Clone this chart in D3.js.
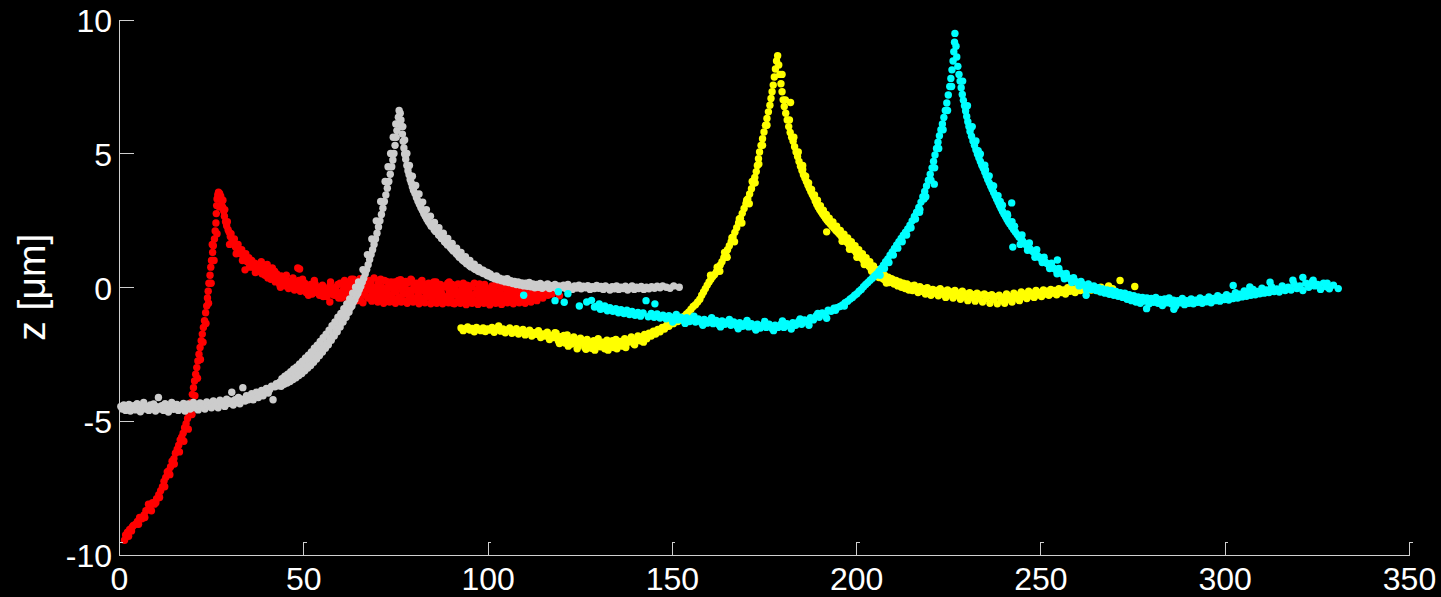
<!DOCTYPE html>
<html><head><meta charset="utf-8">
<script src="https://cdn.jsdelivr.net/npm/d3@7"></script>
<style>html,body{margin:0;background:#000;}svg{display:block;}</style>
</head><body>
<svg id="c" width="1441" height="597"></svg>
<script>
const xTicks = [0, 50, 100, 150, 200, 250, 300, 350];
const zTicks = [-10, -5, 0, 5, 10];
const yLabel = "z [\u03bcm]";
const seriesColors = ["#ff0000", "#cccccc", "#ffff00", "#00ffff"];

// red track [x, z]
const red = [
[1.5,-9.45],[1.8,-9.25],[2.3,-9.15],[2.6,-9.3],[2.9,-9.05],[3.4,-9.1],[3.6,-8.95],[3.9,-8.9],[4.5,-8.85],[5.0,-8.75],[5.3,-8.85],[5.6,-8.6],[6.2,-8.65],[6.8,-8.5],[7.0,-8.6],[7.3,-8.35],[7.9,-8.3],[8.0,-8.1],[8.5,-8.15],[8.8,-8.35],[9.1,-8.05],[9.6,-8.1],[10.0,-8.05],[10.2,-7.9],[10.8,-7.75],[11.0,-7.85],[11.3,-7.6],[11.8,-7.45],[12.2,-7.25],[12.4,-7.45],[12.7,-7.1],[13.1,-6.9],[13.5,-6.85],[13.8,-7.0],[14.0,-6.7],[14.4,-6.5],[14.9,-6.4],[15.0,-6.6],[15.3,-6.2],[15.8,-6.05],[16.2,-5.9],[16.4,-6.15],[16.6,-5.7],[17.0,-5.6],[17.4,-5.45],[17.6,-5.75],[17.8,-5.25],[18.2,-5.1],[18.6,-4.9],[18.8,-5.3],[18.9,-4.7],[19.3,-4.5],[19.6,-4.3],[19.8,-4.75],[19.9,-4.0],[20.2,-3.75],[20.5,-3.5],[20.6,-4.05],[20.8,-3.25],[21.1,-3.0],[21.3,-3.4],[21.4,-2.75],[21.7,-2.5],[22.0,-2.25],[22.1,-2.7],[22.3,-2.0],[22.6,-1.75],[22.8,-2.05],[22.9,-1.5],[23.2,-1.25],[23.5,-0.95],[23.6,-1.35],[23.8,-0.7],[24.0,-0.4],[24.2,-0.15],[24.3,-0.6],[24.4,0.15],[24.7,0.45],[24.9,0.75],[25.0,0.15],[25.1,1.0],[25.3,1.6],[25.4,1.3],[25.6,1.55],[25.8,1.0],[25.9,1.8],[26.1,2.1],[26.3,2.4],[26.4,2.75],[26.5,3.05],[26.6,2.0],[26.6,3.3],[26.8,3.45],[27.0,3.55],[27.2,3.0],[27.3,3.5],[27.5,3.3],
[27.6,3.4],[27.9,3.2],[28.1,3.0],[28.2,3.25],[28.4,2.85],[28.6,2.65],[28.7,2.9],[28.9,2.45],[29.2,2.3],[29.4,2.45],[29.6,2.15],[29.9,2.05],[30.0,1.6],[30.2,1.9],[30.4,2.0],[30.7,1.75],[31.0,1.65],[31.3,1.8],[31.6,1.5],[31.8,1.25],[32.0,1.45],[32.3,1.6],[32.6,1.3],[33.0,1.25],[33.3,1.4],[33.5,1.0],[33.7,1.15],[34.1,1.05],[34.2,0.65],[34.4,1.25],[34.8,0.95],[35.2,1.1],[35.4,0.75],[35.6,0.85],[36.0,1.0],[36.4,0.75],[36.8,0.9],[37.0,0.55],[37.2,0.65],[37.6,0.85],[38.0,0.6],[38.4,0.78],[38.6,0.95],[38.8,0.5],[39.2,0.7],[39.6,0.45],[40.0,0.62],[40.2,0.85],[40.4,0.35],[40.8,0.55],[41.2,0.3],[41.6,0.72],[42.0,0.4],[42.2,0.6],[42.4,0.2],[42.8,0.5],[43.2,0.25],[43.6,0.1],[43.8,0.0],[44.0,0.42],[44.4,0.15],[44.8,0.3],[45.2,0.05],[45.4,0.45],[45.6,0.25],[46.0,-0.05],[46.4,0.2],[46.8,0.0],[47.0,0.15],[47.2,0.35],[47.6,-0.1],[48.0,0.12],[48.4,-0.05],[48.5,0.72],[48.8,0.25],[49.0,0.68],[49.2,-0.15],[49.6,0.05],[49.8,0.3],[50.0,-0.1],[50.4,0.15],[50.8,-0.2],[51.2,0.0],[51.4,-0.3],[51.6,-0.12],[52.0,0.1],[52.4,-0.25],[52.8,-0.05],[53.0,0.25],[53.2,0.12],[53.6,-0.2],[54.0,0.0],[54.4,-0.3],[54.8,-0.1],[55.2,0.08],[55.4,-0.35],[55.6,-0.22],[56.0,-0.05],[56.4,-0.35],[56.8,-0.12],[57.2,0.05],[57.2,-0.55],[57.4,0.2],[57.6,-0.25],[58.0,-0.1],[58.4,-0.3],[58.8,0.0],[59.2,-0.18],[59.4,0.1],[59.6,-0.4],
[60.0,0.15],[60.2,-0.25],[60.4,-0.4],[60.8,-0.1],[61.0,0.05],[61.2,0.25],[61.6,-0.3],[61.8,-0.2],[62.0,0.0],[62.4,-0.45],[62.6,0.1],[62.8,0.2],[63.2,-0.15],[63.4,-0.3],[63.6,0.3],[64.0,-0.35],[64.2,0.15],[64.4,0.05],[64.8,-0.2],[65.0,-0.35],[65.2,0.18],[65.6,-0.5],[65.8,0.1],[66.0,-0.05],[66.4,0.22],[66.6,-0.15],[66.8,-0.3],[67.2,0.1],[67.4,0.2],[67.6,-0.4],[68.0,-0.1],[68.2,-0.35],[68.4,0.2],[68.8,-0.25],[69.0,0.0],[69.2,0.35],[69.6,-0.45],[69.8,-0.2],[70.0,-0.05],[70.4,0.15],[70.6,0.25],[70.8,-0.35],[71.2,0.02],[71.4,-0.4],[71.6,-0.2],[72.0,0.25],[72.2,-0.05],[72.4,-0.5],[72.8,-0.1],[73.0,-0.3],[73.2,0.12],[73.6,-0.3],[73.8,0.2],[74.0,0.0],[74.4,-0.42],[74.6,-0.15],[74.8,0.2],[75.2,-0.18],[75.4,-0.45],[75.6,0.08],[76.0,-0.38],[76.2,0.05],[76.4,0.28],[76.8,-0.08],[77.0,-0.25],[77.2,-0.5],[77.6,0.1],[77.8,0.22],[78.0,-0.25],[78.4,0.18],[78.6,-0.1],[78.8,-0.4],[79.2,0.3],[79.4,0.26],[79.4,-0.35],[79.6,-0.12],[80.0,0.05],[80.2,0.1],[80.4,-0.45],[80.8,0.15],[81.0,-0.15],[81.2,-0.28],[81.6,-0.02],[81.8,-0.4],[82.0,0.22],[82.4,-0.5],[82.6,0.05],[82.8,-0.15],[83.2,0.1],[83.4,-0.25],[83.6,-0.35],[84.0,0.15],[84.2,-0.05],[84.4,-0.2],[84.8,-0.55],[85.0,-0.45],[85.2,0.05],[85.6,-0.3],[85.8,0.1],[86.0,0.2],[86.4,-0.1],[86.6,-0.3],[86.8,-0.45],[87.2,0.1],[87.4,-0.1],[87.6,-0.25],[88.0,-0.55],[88.2,-0.4],[88.4,0.05],[88.8,-0.35],[89.0,0.0],[89.2,0.15],[89.6,-0.15],[89.8,-0.28],[90.0,-0.5],[90.4,0.1],[90.6,-0.6],[90.8,-0.3],[91.2,-0.05],[91.4,-0.15],[91.6,-0.55],[92.0,0.12],[92.2,-0.35],[92.4,-0.2],[92.8,-0.42],[93.0,-0.1],[93.2,0.05],[93.6,-0.3],[93.8,-0.45],[94.0,-0.6],[94.4,0.08],[94.6,-0.25],[94.8,-0.15],[95.2,-0.45],[95.4,0.05],[95.6,0.0],[96.0,-0.3],[96.2,-0.5],[96.4,0.15],[96.8,-0.55],[97.0,-0.2],[97.2,-0.1],[97.6,-0.35],[97.8,-0.42],[98.0,0.05],[98.4,-0.5],[98.6,-0.05],[98.8,-0.2],[99.2,0.1],[99.4,-0.3],[99.6,-0.4],[100.0,-0.05],[100.2,-0.45],[100.4,-0.6],[100.8,-0.25],[101.0,-0.1],[101.2,0.05],[101.6,-0.45],[101.8,-0.3],[102.0,-0.15],[102.4,0.1],[102.6,-0.5],[102.8,-0.35],[103.2,-0.55],[103.4,-0.2],[103.6,-0.05],[104.0,-0.3],[104.2,-0.42],[104.4,0.05],[104.8,-0.5],[105.0,-0.05],[105.2,-0.2],[105.6,-0.4],[105.8,-0.3],[106.0,0.0],[106.4,-0.3],[106.6,-0.45],[106.8,-0.55],[107.2,-0.1],[107.4,-0.2],[107.6,-0.38],[108.0,0.02],[108.2,-0.4],[108.4,-0.25],[108.8,-0.5],[109.0,-0.05],[109.2,-0.15],[109.6,-0.35],[109.8,-0.28],[110.0,0.05],[110.4,-0.28],[110.6,-0.45],[110.8,-0.5],[111.2,-0.12],[111.4,-0.25],[111.6,-0.4],[112.0,-0.22],[112.4,-0.45],[112.8,-0.35],[113.0,-0.1],[113.6,-0.35],[114.2,-0.25],[114.6,-0.15],[115.0,-0.4],[115.8,-0.2],[116.4,-0.3],[117.5,-0.25],[119.5,-0.32],
[62.2,-0.55],[63.0,0.3],[64.6,-0.5],[65.4,0.32],[66.2,-0.58],[67.8,0.25],[68.6,-0.52],[70.2,-0.55],[71.0,0.3],[71.8,-0.6],[72.6,0.22],[73.4,-0.55],[75.0,-0.6],[75.8,0.25],[76.6,-0.55],[78.2,-0.6],[79.8,-0.55],[81.4,-0.62],[82.2,0.25],[83.0,-0.58],[84.6,-0.62],[85.4,0.2],[86.2,-0.6],[87.8,-0.62],[89.4,-0.58],[89.6,0.2],[91.0,-0.62],[92.6,-0.6],[93.4,0.15],[94.2,-0.65],[95.8,-0.6],[97.4,-0.64],[97.8,0.12],[99.0,-0.6],[100.6,-0.66],[102.2,-0.6],[103.8,-0.64],[105.4,-0.58],[107.0,-0.62],[108.6,-0.58],[110.2,-0.6],[111.8,-0.55],
[61.6,-0.05],[63.8,-0.1],[66.0,-0.25],[68.0,0.1],[70.6,-0.12],[72.8,-0.25],[74.8,-0.05],[77.0,0.0],[79.0,-0.2],[81.0,0.0],[83.6,-0.08],[85.6,-0.15],[87.6,0.0],[89.8,-0.1],[91.8,-0.3],[93.6,-0.15],[95.6,-0.28],[97.6,-0.05],[99.6,-0.2],[101.6,-0.1],[103.6,-0.4],[105.6,-0.15],[107.6,-0.3],[109.6,-0.5],[111.6,-0.3],[113.4,-0.5],[114.8,-0.3]
];

// gray track [x, z]
const gray = [
[0.5,-4.45],[0.9,-4.55],[1.3,-4.4],[1.8,-4.6],[2.2,-4.48],[2.7,-4.38],[3.1,-4.62],[3.6,-4.5],[4.0,-4.42],[4.5,-4.58],[4.9,-4.35],[5.4,-4.52],[5.8,-4.65],[6.3,-4.45],[6.7,-4.3],[7.2,-4.55],[7.6,-4.48],[8.1,-4.6],[8.5,-4.4],[9.0,-4.52],[9.4,-4.36],[9.9,-4.62],[10.3,-4.46],[10.7,-4.12],[11.2,-4.55],[11.6,-4.42],[12.1,-4.6],[12.5,-4.35],[13.0,-4.5],[13.4,-4.66],[13.9,-4.44],[14.3,-4.3],[14.8,-4.56],[15.2,-4.47],[15.7,-4.38],[16.1,-4.6],[16.6,-4.42],[17.0,-4.52],[17.5,-4.34],[17.9,-4.62],[18.4,-4.45],[18.8,-4.36],[19.3,-4.55],[19.7,-4.42],[20.2,-4.3],[20.6,-4.5],[21.1,-4.4],[21.5,-4.58],[22.0,-4.32],[22.4,-4.46],[22.9,-4.38],[23.3,-4.55],[23.8,-4.28],[24.2,-4.44],[24.7,-4.36],[25.1,-4.5],[25.6,-4.25],[26.0,-4.4],[26.5,-4.32],[26.9,-4.5],[27.4,-4.22],[27.8,-4.38],[28.3,-4.3],[28.7,-4.45],[29.2,-4.18],[29.6,-4.34],[30.1,-4.25],[30.6,-3.92],[31.0,-4.4],[31.5,-4.2],[31.9,-4.3],[32.4,-4.12],[32.8,-4.35],[33.3,-4.18],[33.6,-3.75],[34.2,-4.25],[34.6,-4.05],[35.1,-4.2],[35.5,-4.1],[36.0,-3.98],[36.4,-4.2],[36.9,-4.05],[37.3,-3.92],[37.8,-4.12],[38.2,-3.96],[38.7,-3.85],[39.1,-4.05],[39.6,-3.9],[40.0,-3.78],[40.5,-3.95],[40.9,-3.82],[41.4,-3.7],[41.8,-4.2],[42.3,-3.72],[42.7,-3.6],
[43.2,-3.68],[43.6,-3.55],[44.0,-3.7],[44.4,-3.52],[44.8,-3.62],[45.2,-3.45],[45.6,-3.58],[46.0,-3.4],[46.4,-3.52],[46.8,-3.32],[47.2,-3.45],[47.6,-3.25],[48.0,-3.38],[48.4,-3.18],[48.8,-3.3],[49.2,-3.1],[49.6,-3.22],[50.0,-3.0],[50.4,-3.12],[50.8,-2.9],[51.2,-3.02],[51.6,-2.8],[52.0,-2.92],[52.4,-2.68],[52.8,-2.8],[53.2,-2.56],[53.6,-2.68],[54.0,-2.44],[54.4,-2.55],[54.8,-2.3],[55.2,-2.42],[55.6,-2.18],[56.0,-2.28],[56.4,-2.08],[56.8,-2.15],[57.2,-1.92],[57.6,-1.98],[58.0,-1.78],[58.4,-1.82],[58.8,-1.62],[59.2,-1.66],[59.6,-1.46],[60.0,-1.48],[60.4,-1.3],[60.8,-1.3],[61.2,-1.12],[61.6,-1.12],[62.0,-0.95],[62.4,-0.92],[62.8,-0.76],[63.2,-0.7],[63.6,-0.55],[64.0,-0.46],[64.4,-0.32],[64.8,-0.22],[65.2,-0.08],[65.6,0.04],[66.0,0.2],[66.4,0.34],[66.8,0.5],[67.2,0.66],[67.6,0.84],[68.0,1.04],[68.4,1.22],[68.8,1.4],[69.2,1.6],[69.6,1.8],[70.0,2.02],[70.4,2.25],[70.8,2.48],[71.2,2.72],[71.6,2.95],[72.0,3.2],[72.4,3.45],[72.8,3.7],[73.2,3.95],[73.6,4.22],[74.0,4.5],[74.3,4.75],[74.6,5.0],[74.9,5.3],[75.2,5.6],[75.4,5.85],[75.6,6.1],[75.8,6.35],[76.0,6.6],
[44.2,-3.42],[45.0,-3.32],[45.8,-3.25],[46.6,-3.15],[47.4,-3.05],[48.2,-2.98],[49.0,-2.86],[49.8,-2.76],[50.6,-2.64],[51.4,-2.54],[52.2,-2.42],[53.0,-2.28],[53.8,-2.16],[54.6,-2.02],[55.4,-1.88],[56.2,-1.75],[57.0,-1.6],[57.8,-1.44],[58.6,-1.3],[59.4,-1.12],[60.2,-0.98],[61.0,-0.8],[61.8,-0.62],[62.6,-0.44],[63.4,-0.22],[64.2,0.0],[65.0,0.2],[66.2,0.66],[67.4,1.22],[68.6,1.8],[69.8,2.48],[71.0,3.2],[72.2,3.95],[73.0,4.5],[73.7,5.0],[74.4,5.6],[75.1,6.1],
[76.3,6.5],[76.5,6.25],[76.7,6.0],[76.9,5.72],[77.1,5.45],[77.3,5.2],[77.5,4.98],[77.8,4.78],[78.1,4.55],[78.4,4.35],[78.7,4.2],[79.0,4.02],[79.3,3.9],[79.6,3.75],[79.9,3.62],[80.3,3.5],[80.7,3.35],[81.1,3.22],[81.5,3.1],[81.9,2.98],[82.3,2.88],[82.7,2.75],[83.1,2.65],[83.5,2.55],[83.9,2.46],[84.3,2.38],[84.7,2.28],[85.1,2.3],[85.5,2.15],[85.9,2.08],[86.3,2.1],[86.7,1.95],[87.1,1.92],[87.5,1.82],[87.9,1.85],[88.3,1.7],[88.7,1.66],[89.1,1.58],[89.5,1.6],[89.9,1.48],[90.3,1.42],[90.7,1.35],[91.1,1.38],[91.5,1.25],[91.9,1.2],[92.3,1.12],[92.7,1.15],[93.1,1.03],[93.5,0.98],[93.9,0.95],[94.3,0.88],[94.7,0.92],[95.1,0.8],[95.5,0.76],[95.9,0.82],[96.3,0.7],[96.7,0.66],[97.1,0.72],[97.5,0.6],[97.9,0.58],[98.3,0.65],[98.7,0.52],[99.1,0.5],[99.5,0.56],[99.9,0.44],[100.3,0.42],[100.7,0.5],[101.1,0.36],[101.5,0.4],[101.9,0.32],[102.4,0.42],[102.8,0.28],[103.3,0.34],[103.8,0.24],[104.3,0.3],[104.8,0.2],[105.3,0.32],[105.8,0.18],[106.3,0.24],[106.8,0.14],[107.3,0.22],[107.8,0.1],[108.3,0.2],[108.8,0.08],[109.3,0.16],[109.8,0.05],[110.3,0.15],[110.8,0.04],[111.3,0.18],[111.8,0.02],[112.3,0.12],[112.8,-0.02],[113.3,0.1],[113.8,0.0],[114.3,0.14],[114.8,-0.04],[115.3,0.08],[115.8,0.02],[116.3,0.12],[116.8,-0.05],[117.3,0.06],[117.8,0.0],[118.3,0.1],[118.8,-0.06],[119.4,0.05],[120.0,-0.02],[120.6,0.08],[121.2,-0.05],[121.8,0.1],[122.4,0.0],[123.0,-0.08],[123.6,0.05],[124.2,-0.03],[124.8,0.08],[125.4,-0.06],[126.0,0.04],[126.6,-0.02],[127.2,0.06],[127.8,-0.08],[128.4,0.02],[129.0,-0.05],[129.6,0.07],[130.2,-0.04],[130.8,0.03],[131.4,-0.08],[132.0,0.05],[132.6,-0.02],[133.2,-0.1],[133.8,0.02],[134.4,-0.06],[135.0,0.05],[135.6,-0.08],[136.2,0.0],[136.8,-0.05],[137.4,0.04],[138.0,-0.1],[138.6,-0.02],[139.2,0.05],[139.8,-0.08],[140.4,0.0],[141.0,-0.05],[141.7,0.03],[142.4,-0.08],[143.1,0.0],[143.8,-0.06],[144.5,0.02],[145.3,-0.04],[146.0,0.04],[146.8,-0.02],[147.5,0.05],[148.5,0.0],[149.5,-0.04],[150.5,0.05],[152.0,0.0],
[77.0,6.0],[77.5,5.5],[78.1,5.0],[78.8,4.55],[79.6,4.15],[80.5,3.8],[81.4,3.48],[82.4,3.18],[83.4,2.9],[84.5,2.65],[85.6,2.42],[86.8,2.22],[88.0,2.02],[89.2,1.82],[90.4,1.64],[91.6,1.46],[92.8,1.3],[94.0,1.14],[95.2,1.0],[96.4,0.86],[97.6,0.74],[98.8,0.64],[100.0,0.55]
];

// yellow track [x, z]
const yellow = [
[92.8,-1.52],[93.4,-1.62],[94.0,-1.55],[94.6,-1.48],[95.2,-1.6],[95.8,-1.54],[96.4,-1.66],[97.0,-1.5],[97.6,-1.58],[98.2,-1.62],[98.8,-1.52],[99.4,-1.65],[100.0,-1.56],[100.6,-1.6],[101.2,-1.5],[101.8,-1.68],[102.4,-1.58],[103.0,-1.45],[103.6,-1.64],[104.2,-1.56],[104.8,-1.7],[105.4,-1.6],[106.0,-1.52],[106.6,-1.72],[107.2,-1.62],[107.8,-1.55],[108.4,-1.75],[109.0,-1.66],[109.6,-1.58],[110.2,-1.78],[110.8,-1.68],[111.4,-1.6],[112.0,-1.82],[112.6,-1.7],[113.2,-1.76],[113.8,-1.62],[114.4,-1.88],[115.0,-1.74],[115.6,-1.82],[116.2,-1.68],[116.8,-1.95],[117.4,-1.8],[118.0,-1.88],[118.3,-1.7],[118.6,-1.72],[119.2,-2.0],[119.5,-2.1],[119.8,-1.85],[120.4,-1.92],[120.7,-1.8],[121.0,-2.08],[121.6,-1.78],[121.9,-2.2],[122.2,-1.98],[122.8,-2.12],[123.1,-1.95],[123.4,-1.86],[124.0,-2.02],[124.3,-2.3],[124.6,-2.2],[125.2,-1.9],[125.5,-2.0],[125.8,-2.06],[126.4,-2.25],[126.7,-2.32],[127.0,-1.95],[127.6,-2.1],[127.9,-2.05],[128.2,-2.28],[128.8,-2.0],[129.1,-2.35],[129.4,-2.14],[130.0,-1.92],[130.3,-2.08],[130.6,-2.22],[131.2,-2.05],[131.5,-2.22],[131.8,-2.3],[132.4,-1.98],[132.7,-2.35],[133.0,-2.16],[133.6,-2.08],[133.9,-2.0],[134.2,-2.25],[134.8,-1.95],[135.1,-2.3],[135.4,-2.12],[136.0,-2.02],[136.3,-2.1],[136.6,-2.2],[137.2,-1.92],[137.5,-2.25],[137.8,-2.08],[138.4,-2.0],[138.7,-1.95],[139.0,-1.86],[139.6,-2.1],[139.9,-2.15],[140.2,-1.95],[140.8,-1.82],[141.1,-1.9],[141.4,-2.0],[142.0,-1.86],[142.3,-2.05],[142.6,-1.76],[143.2,-1.92],[143.5,-1.8],[143.8,-1.72],[144.4,-1.82],[145.0,-1.64],[145.6,-1.75],[146.2,-1.58],[146.8,-1.66],[147.4,-1.5],[148.0,-1.56],[148.6,-1.42],[149.2,-1.46],[149.8,-1.32],[150.4,-1.36],[151.0,-1.22],[151.6,-1.28],[152.2,-1.2],[152.8,-1.16],[153.4,-1.08],[154.0,-1.0],[154.6,-0.92],[155.2,-0.82],[155.8,-0.72],[156.4,-0.65],[157.0,-0.55],[157.6,-0.45],
[158.1,-0.3],[158.6,-0.18],[159.1,-0.05],[159.6,0.08],[160.1,0.2],[160.5,0.45],[160.6,0.3],[161.1,0.4],[161.6,0.48],[162.1,0.58],[162.3,0.75],[162.6,0.7],[163.1,0.82],[163.6,0.95],[164.1,1.1],[164.3,1.3],[164.6,1.25],[165.1,1.4],[165.6,1.55],[166.1,1.7],[166.3,1.85],[166.6,1.88],[167.1,2.05],[167.6,2.22],[168.1,2.4],[168.3,2.55],[168.6,2.58],[169.1,2.76],[169.6,2.94],[170.1,3.12],[170.3,3.25],[170.6,3.3],[171.1,3.48],[171.6,3.68],[171.8,3.95],[172.1,3.88],[172.5,4.1],[172.9,4.32],[173.2,4.55],[173.5,4.8],[173.8,5.05],[174.2,5.3],[174.6,5.55],[175.0,5.8],[175.4,6.05],[175.8,6.3],[176.2,6.55],[176.6,6.8],[176.9,7.05],[177.2,7.3],[177.5,7.55],[177.8,7.85],[178.1,8.15],[178.4,8.45],[178.7,8.65],
[163.0,0.6],[165.0,1.12],[167.0,1.7],[169.0,2.4],[171.0,3.12],[172.6,3.9],[173.6,4.6],[174.6,5.3],[175.8,6.05],
[179.0,8.3],[179.3,7.95],[179.6,7.6],[179.9,7.3],[180.2,7.0],[180.5,6.75],[180.9,6.5],[181.3,6.25],[181.7,6.0],[182.1,5.78],[182.2,6.9],[182.5,5.6],[182.9,5.45],[183.3,5.25],[183.7,5.05],[184.1,4.88],[184.5,4.7],[184.9,4.52],[185.3,4.36],[185.5,4.4],[185.7,4.2],[186.1,4.08],[186.3,4.15],[186.5,3.95],[186.9,3.82],[187.1,3.9],[187.3,3.7],[187.7,3.58],[187.9,3.65],[188.1,3.46],[188.5,3.36],[188.7,3.45],[188.9,3.22],[189.3,3.1],[189.5,3.25],[189.7,3.0],[190.1,2.9],[190.3,3.05],[190.5,2.82],[190.9,2.74],[191.1,2.88],[191.3,2.66],[191.7,2.58],[191.9,2.72],[192.0,2.07],[192.1,2.5],[192.5,2.44],[192.7,2.58],[193.0,2.36],[193.5,2.28],[193.7,2.44],[194.0,2.2],[194.5,2.12],[194.7,2.28],[195.0,2.05],[195.5,1.98],[195.7,2.12],[196.0,1.9],[196.2,1.72],[196.5,1.82],[196.7,1.98],[197.0,1.75],[197.5,1.68],[197.7,1.84],[198.0,1.6],[198.2,1.42],[198.5,1.52],[198.7,1.7],[199.0,1.45],[199.5,1.38],[199.7,1.55],[200.0,1.3],[200.2,1.12],[200.5,1.22],[200.7,1.4],[201.0,1.15],[201.5,1.08],[201.7,1.25],[202.0,1.0],[202.2,0.85],[202.5,0.92],[202.7,1.1],[203.0,0.85],[203.5,0.78],[203.7,0.95],[204.0,0.7],[204.2,0.6],[204.5,0.64],[204.7,0.8],[205.0,0.56],[205.5,0.5],[205.7,0.66],[206.0,0.45],[206.2,0.36],[206.5,0.4],[206.7,0.55],[207.0,0.35],[207.5,0.3],[207.7,0.45],[208.0,0.25],[208.2,0.16],[208.5,0.22],[208.7,0.38],[209.0,0.18],[209.5,0.32],
[179.9,7.95],[180.8,7.0],[181.9,6.25],[183.1,5.6],[184.3,5.05],[185.5,4.55],
[209.8,0.3],[210.3,0.12],[210.8,0.25],[211.3,0.05],[211.8,0.2],[212.3,0.0],[212.8,0.15],[213.3,-0.05],[213.8,0.12],[214.3,-0.1],[214.8,0.05],[215.3,-0.12],[215.8,0.08],[216.3,-0.08],[216.8,-0.2],[217.3,0.02],[217.8,-0.15],[218.3,-0.05],[218.8,-0.25],[219.3,-0.02],[219.8,-0.18],[220.3,-0.3],[220.8,-0.08],[221.3,-0.22],[221.8,-0.12],[222.3,-0.32],[222.8,-0.05],[223.3,-0.25],[223.8,-0.15],[224.3,-0.38],[224.8,-0.1],[225.3,-0.28],[225.8,-0.18],[226.3,-0.4],[226.8,-0.12],[227.3,-0.3],[227.8,-0.22],[228.3,-0.45],[228.8,-0.15],[229.3,-0.35],[229.8,-0.25],[230.3,-0.5],[230.8,-0.2],[231.3,-0.38],[231.8,-0.28],[232.3,-0.52],[232.8,-0.22],[233.3,-0.4],[233.8,-0.3],[234.3,-0.55],[234.8,-0.25],[235.3,-0.42],[235.8,-0.32],[236.3,-0.6],[236.8,-0.28],[237.3,-0.45],[237.8,-0.35],[238.3,-0.62],[238.8,-0.3],[239.3,-0.48],[239.8,-0.38],[240.3,-0.6],[240.8,-0.25],[241.3,-0.45],[241.8,-0.35],[242.3,-0.55],[242.8,-0.22],[243.3,-0.4],[243.8,-0.3],[244.3,-0.5],[244.8,-0.18],[245.3,-0.35],[245.8,-0.25],[246.3,-0.42],[246.8,-0.15],[247.3,-0.32],[247.8,-0.22],[248.3,-0.38],[248.8,-0.12],[249.3,-0.28],[249.8,-0.2],[250.3,-0.35],[250.8,-0.1],[251.3,-0.25],[251.8,-0.15],[252.3,-0.3],[252.8,-0.08],[253.3,-0.22],[253.8,-0.12],[254.4,-0.28],[255.0,-0.05],[255.6,-0.2],[256.2,-0.1],[256.8,-0.25],[257.4,-0.02],[258.0,-0.15],[258.7,-0.08],[259.4,-0.2],[260.1,0.0],[260.8,-0.12],[261.5,-0.05],[262.3,-0.15],[263.0,0.02],[263.8,-0.1],[264.6,-0.02],[265.5,-0.12],[266.4,0.0],[267.3,-0.08],[268.5,0.05],[269.6,-0.05],[271.6,0.25],[275.6,0.03]
];

// cyan track [x, z]
const cyan = [
[109.8,-0.3],[118.3,-0.5],[119.2,-0.17],[120.8,-0.56],[121.8,-0.24],[124.9,-0.7],[126.9,-0.55],[128.2,-0.49],[129.0,-0.74],
[129.5,-0.72],[130.3,-0.62],[130.6,-0.82],[131.0,-0.8],[131.8,-0.7],[132.5,-0.88],[133.2,-0.76],[134.0,-0.9],[134.8,-0.8],[135.5,-0.95],[136.2,-0.84],[137.0,-0.98],[137.8,-0.86],[138.5,-1.02],[139.2,-0.9],[140.0,-1.05],[140.8,-0.94],[141.5,-1.08],[142.2,-0.96],[143.0,-0.5],[143.6,-1.1],[144.4,-0.98],[145.2,-1.12],[145.4,-0.62],[146.0,-1.0],[146.8,-1.15],[147.6,-1.04],[148.4,-1.18],[149.2,-1.06],[150.0,-1.2],[150.2,-1.3],[150.8,-1.1],[151.2,-1.02],[151.6,-1.22],[152.4,-1.12],[153.2,-1.25],[153.6,-1.35],[154.0,-1.14],[154.8,-1.28],[155.6,-1.16],[156.0,-1.08],[156.4,-1.3],[157.2,-1.18],[158.0,-1.32],[158.4,-1.42],[158.8,-1.2],[159.6,-1.34],[160.4,-1.22],[160.8,-1.14],[161.2,-1.36],[162.0,-1.24],[162.8,-1.4],[163.2,-1.48],[163.6,-1.26],[164.4,-1.38],[165.2,-1.28],[165.6,-1.2],[166.0,-1.42],[166.8,-1.3],[167.6,-1.44],[168.0,-1.55],[168.4,-1.32],[169.2,-1.46],[170.0,-1.34],[170.4,-1.24],[170.8,-1.48],[171.6,-1.36],[172.4,-1.5],[172.8,-1.6],[173.2,-1.38],[174.0,-1.52],[174.8,-1.4],[175.2,-1.28],[175.6,-1.5],[176.4,-1.38],[177.2,-1.54],[177.6,-1.62],[178.0,-1.42],[178.8,-1.5],[179.6,-1.38],[180.0,-1.26],[180.4,-1.5],[181.2,-1.36],[182.0,-1.46],[182.4,-1.56],[182.8,-1.32],[183.6,-1.42],[184.4,-1.28],[184.8,-1.18],[185.2,-1.38],[186.0,-1.22],[186.8,-1.3],[187.2,-1.42],[187.6,-1.14],[188.4,-1.22],[189.2,-1.06],[189.6,-0.98],[190.0,-1.12],[190.8,-0.96],[191.6,-1.02],[192.0,-1.16],[192.4,-0.86],[193.2,-0.9],[194.0,-0.78],[194.4,-0.86],[194.8,-0.76],[195.6,-0.72],[196.3,-0.66],[196.8,-0.7],[197.0,-0.58],[197.7,-0.52],[198.4,-0.44],[199.0,-0.38],[199.6,-0.3],[200.2,-0.24],[200.8,-0.15],[201.4,-0.08],[202.0,0.02],[202.6,0.1],[203.2,0.18],[203.8,0.26],[204.4,0.34],[205.0,0.42],
[205.6,0.5],[206.2,0.6],[206.5,0.45],[206.8,0.7],[207.4,0.82],[207.7,0.7],[208.0,0.95],[208.6,1.06],[208.9,0.92],[209.2,1.2],[209.8,1.32],[210.1,1.2],[210.4,1.45],[211.0,1.58],[211.3,1.46],[211.6,1.7],[212.2,1.82],[212.5,1.7],[212.8,1.94],[213.4,2.06],[213.7,1.95],[214.0,2.18],[214.6,2.32],[214.9,2.22],[215.2,2.48],[215.8,2.64],[216.1,2.55],[216.4,2.8],[217.0,2.98],[217.3,2.9],[217.6,3.18],[218.1,3.38],[218.4,3.3],[218.6,3.58],[219.1,3.78],[219.6,4.0],[220.1,4.22],[220.6,4.46],[221.0,4.7],[221.2,3.85],[221.4,4.94],[221.8,5.18],[222.2,5.42],[222.6,5.66],[223.0,5.88],[223.4,6.1],[223.8,6.34],[224.2,6.6],[224.6,6.88],[225.0,7.18],[225.4,7.5],[225.7,7.8],[226.0,8.12],[226.3,8.45],[226.5,8.8],[226.7,9.15],[226.8,9.48],
[217.2,2.8],[218.9,3.38],[220.3,4.0],[221.3,4.46],[222.4,5.18],[223.6,5.88],[224.8,6.6],[225.9,7.5],
[227.1,9.0],[227.3,8.6],[227.6,8.25],[227.9,7.95],[228.2,7.7],[228.5,7.45],[228.8,7.2],[229.1,6.98],[229.4,6.78],[229.7,6.58],[230.0,6.38],[230.3,6.18],[230.6,6.0],[230.9,5.82],[231.1,5.95],[231.3,5.64],[231.7,5.46],[232.1,5.3],[232.5,5.14],[232.9,4.98],[233.1,5.1],[233.3,4.84],[233.7,4.7],[234.1,4.56],[234.5,4.44],[234.9,4.3],[235.1,4.38],[235.3,4.16],[235.7,4.02],[236.1,3.9],[236.5,3.78],[236.9,3.66],[237.1,3.78],[237.3,3.54],[237.7,3.42],[238.1,3.3],[238.5,3.18],[238.9,3.06],[239.1,3.2],[239.3,2.95],[239.7,2.84],[240.1,2.74],[240.5,2.64],[240.9,2.54],[241.1,2.68],[241.3,2.45],[241.7,2.36],[242.2,2.26],[242.2,3.15],[242.5,1.5],[242.7,2.16],[243.0,2.28],[243.2,2.06],[243.7,1.97],[244.2,1.88],[244.5,1.6],[244.7,1.8],[245.0,1.95],[245.2,1.72],[245.7,1.64],[246.2,1.57],[246.5,1.38],[246.7,1.5],[247.0,1.65],[247.2,1.43],[247.7,1.36],[248.2,1.3],[248.5,1.12],[248.7,1.24],[249.0,1.4],[249.2,1.18],[249.7,1.12],[250.2,1.06],[250.5,0.92],[250.7,1.0],[251.0,1.12],[251.2,0.95],[251.7,0.9],[252.2,0.85],[252.5,0.7],[252.7,0.8],[253.0,0.9],[253.2,0.75],[253.7,0.7],[254.3,0.64],[254.5,0.5],[254.6,1.02],[254.9,0.58],[255.0,0.7],[255.5,0.53],[256.1,0.48],[256.5,0.32],[256.7,0.43],[257.0,0.52],[257.3,0.38],[257.9,0.33],[258.5,0.29],[258.5,0.18],[259.0,0.36],[259.1,0.25],[259.7,0.21],[260.3,0.17],[260.5,0.05],[260.9,0.13],[261.0,0.22],[261.5,0.1],[262.1,0.06],[262.4,-0.3],[262.5,-0.08],[262.7,0.03],[263.0,0.12],[263.3,0.0],
[228.9,7.7],[230.2,6.78],[231.5,6.0],[232.5,5.46],[233.7,4.98],[234.9,4.56],[236.1,4.16],[237.3,3.78],[238.5,3.42],[239.7,3.06],[241.0,2.74],[242.3,2.45],
[263.9,-0.08],[264.5,0.05],[265.1,-0.12],[265.7,-0.02],[266.3,-0.18],[266.9,-0.06],[267.5,-0.22],[268.1,-0.1],[268.7,-0.26],[269.3,-0.12],[269.9,-0.3],[270.5,-0.16],[271.1,-0.34],[271.7,-0.2],[272.3,-0.38],[272.9,-0.22],[273.5,-0.45],[274.1,-0.28],[274.7,-0.5],[275.3,-0.32],[275.9,-0.55],[276.5,-0.36],[277.1,-0.6],[277.7,-0.38],[278.3,-0.52],[278.8,-0.8],[278.9,-0.4],[279.5,-0.62],[280.1,-0.42],[280.7,-0.56],[281.3,-0.38],[281.9,-0.6],[282.5,-0.46],[283.1,-0.68],[283.7,-0.44],[284.3,-0.58],[284.9,-0.4],[285.5,-0.62],[286.1,-0.48],[286.2,-0.82],[286.7,-0.7],[287.3,-0.5],[287.9,-0.58],[288.5,-0.42],[289.1,-0.65],[289.7,-0.5],[290.3,-0.6],[290.9,-0.44],[291.5,-0.62],[292.1,-0.48],[292.7,-0.56],[293.3,-0.4],[293.9,-0.6],[294.5,-0.46],[295.1,-0.54],[295.7,-0.36],[296.3,-0.58],[296.9,-0.42],[297.5,-0.5],[298.1,-0.32],[298.7,-0.52],[299.3,-0.38],[299.9,-0.46],[300.5,-0.28],[301.1,-0.48],[301.7,-0.34],[302.3,0.07],[302.3,-0.42],[302.9,-0.2],[303.5,-0.4],[304.1,-0.26],[304.7,-0.36],[305.3,-0.14],[305.9,-0.34],[306.5,-0.2],[306.8,0.01],[307.1,-0.3],[307.7,-0.08],[308.3,-0.28],[308.9,-0.16],[309.5,-0.24],[310.1,-0.04],[310.7,-0.22],[311.3,-0.1],[312.0,-0.2],[312.3,0.19],[312.7,0.02],[313.4,-0.16],[314.1,-0.06],[314.8,-0.18],[315.6,0.05],[316.4,-0.12],[317.2,0.0],[318.0,-0.1],[318.5,0.26],[318.8,0.12],[319.6,-0.05],[320.4,0.05],[321.2,0.37],[321.2,-0.12],[322.0,0.15],[322.8,0.0],[323.6,0.18],[324.0,0.26],[324.4,0.05],[325.2,0.1],[326.0,-0.08],[326.8,0.15],[327.6,0.02],[327.8,0.15],[328.4,-0.06],[329.5,0.08],[330.8,-0.05]
];

const series = [red, gray, yellow, cyan];

const W = 1441, H = 597;
const svg = d3.select("#c");
svg.append("rect").attr("width", W).attr("height", H).attr("fill", "#000");

const x = d3.scaleLinear().domain([0, 350]).range([119, 1409]);
const y = d3.scaleLinear().domain([-10, 10]).range([555, 19.5]);

const font = "'Liberation Sans', Arial, Helvetica, sans-serif";
const axisColor = "#cfcfcf";
const fmt = d => String(d);

// points
series.forEach((pts, i) => {
  svg.append("g").selectAll("circle").data(pts).join("circle")
    .attr("cx", d => x(d[0]))
    .attr("cy", d => y(d[1]))
    .attr("r", 3.7)
    .attr("fill", seriesColors[i]);
});

// x axis
const gx = svg.append("g").attr("transform", `translate(0,${y(-10)})`)
  .call(d3.axisBottom(x).tickValues(xTicks).tickSize(-13).tickSizeOuter(0).tickPadding(12).tickFormat(fmt));
gx.select(".domain").attr("stroke", axisColor);
gx.selectAll(".tick line").attr("stroke", axisColor);
gx.selectAll(".tick").append("line")
  .attr("x1", 0).attr("x2", 3).attr("y1", -13).attr("y2", -13).attr("stroke", axisColor);
gx.selectAll(".tick text").attr("fill", "#fff").attr("font-family", font).attr("font-size", 32);

// y axis
const gy = svg.append("g").attr("transform", `translate(${x(0)},0)`)
  .call(d3.axisLeft(y).tickValues(zTicks).tickSize(-15).tickSizeOuter(0).tickPadding(7).tickFormat(fmt));
gy.select(".domain").attr("stroke", axisColor);
gy.selectAll(".tick line").attr("stroke", axisColor);
gy.selectAll(".tick text").attr("fill", "#fff").attr("font-family", font).attr("font-size", 32).attr("dy", "0.37em");
svg.selectAll(".domain, .tick line").attr("shape-rendering", "crispEdges");

// y label
svg.append("text")
  .attr("transform", `translate(45,${(y(-10) + y(10)) / 2}) rotate(-90)`)
  .attr("text-anchor", "middle")
  .attr("fill", "#fff")
  .attr("font-family", font)
  .attr("font-size", 39)
  .text(yLabel);
</script>
</body></html>
